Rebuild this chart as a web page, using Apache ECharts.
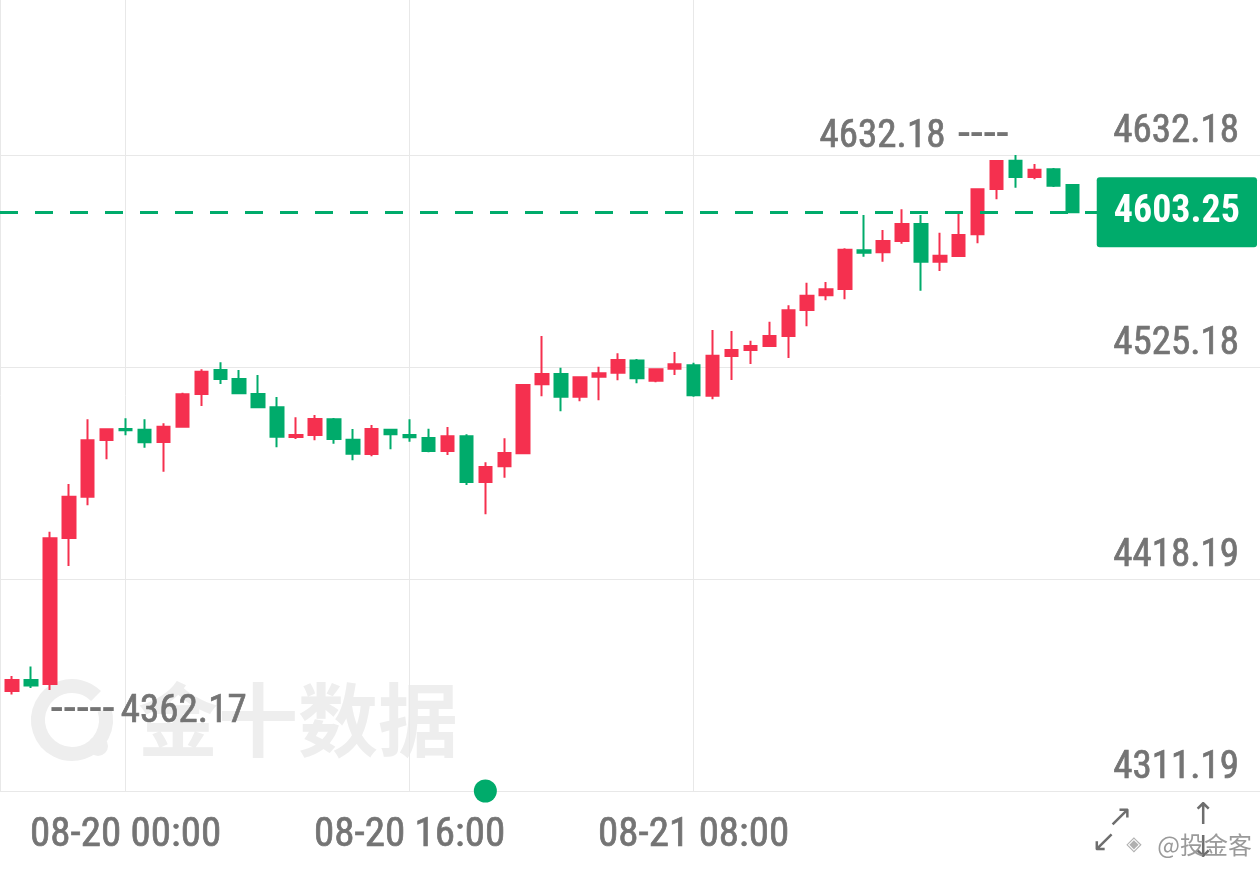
<!DOCTYPE html>
<html>
<head>
<meta charset="utf-8">
<script src="https://cdn.jsdelivr.net/npm/echarts@6/dist/echarts.min.js"></script>
<style>
html,body{margin:0;padding:0;background:#ffffff;}
#chart{width:1260px;height:869px;}
</style>
</head>
<body>
<div id="chart"></div>
<script>
// ---- data ----
const categories = [
  '08-19 18:00','08-19 19:00','08-19 20:00','08-19 21:00','08-19 22:00','08-19 23:00',
  '08-20 00:00','08-20 01:00','08-20 02:00','08-20 03:00','08-20 04:00','08-20 05:00',
  '08-20 07:00','08-20 08:00','08-20 09:00','08-20 10:00','08-20 11:00','08-20 12:00',
  '08-20 13:00','08-20 14:00','08-20 15:00','08-20 16:00','08-20 17:00','08-20 18:00',
  '08-20 19:00','08-20 20:00','08-20 21:00','08-20 22:00','08-20 23:00','08-21 00:00',
  '08-21 01:00','08-21 02:00','08-21 03:00','08-21 04:00','08-21 05:00','08-21 07:00',
  '08-21 08:00','08-21 09:00','08-21 10:00','08-21 11:00','08-21 12:00','08-21 13:00',
  '08-21 14:00','08-21 15:00','08-21 16:00','08-21 17:00','08-21 18:00','08-21 19:00',
  '08-21 20:00','08-21 21:00','08-21 22:00','08-21 23:00','08-22 00:00','08-22 01:00',
  '08-22 02:00','08-22 03:00','08-22 04:00'
];
const opens = [
  4361.66,4367.21,4365.19,4438.90,4459.72,4488.34,4493.89,4493.54,4487.33,4495.05,
  4511.56,4523.67,4519.13,4511.56,4504.84,4489.85,4490.86,4498.79,4488.49,4481.27,
  4493.54,4490.86,4489.35,4482.79,4490.21,4467.14,4475.07,4481.63,4516.45,4521.65,
  4510.19,4520.29,4522.31,4528.46,4518.27,4524.33,4526.04,4510.70,4530.73,4533.76,
  4535.78,4540.83,4553.95,4561.37,4564.55,4584.08,4583.07,4588.78,4597.36,4578.33,
  4581.21,4592.16,4615.02,4629.30,4621.08,4624.96,4617.04
];
const closes = [
  4367.21,4364.44,4438.73,4459.72,4488.19,4493.74,4493.24,4487.18,4495.05,4511.40,
  4522.81,4519.13,4511.91,4504.84,4490.01,4490.86,4498.94,4488.84,4481.43,4493.89,
  4491.22,4489.70,4482.79,4490.21,4467.14,4474.71,4481.78,4516.10,4521.65,4510.19,
  4519.98,4522.00,4528.72,4519.48,4524.02,4526.55,4510.90,4530.89,4533.76,4535.78,
  4540.83,4553.80,4561.17,4564.40,4584.38,4582.87,4588.78,4597.36,4578.33,4581.36,
  4591.80,4614.87,4629.15,4621.08,4624.76,4616.69,4603.25
];
const lows = [
  4359.89,4363.17,4362.17,4424.75,4455.38,4478.60,4490.71,4484.45,4472.34,4494.80,
  4505.50,4516.60,4511.40,4504.34,4484.66,4488.84,4488.19,4486.47,4478.10,4480.11,
  4483.65,4487.48,4482.13,4480.77,4465.63,4450.84,4469.31,4481.12,4510.40,4502.83,
  4507.87,4508.38,4518.47,4516.96,4517.46,4521.15,4510.19,4508.88,4518.62,4526.70,
  4535.43,4529.73,4545.72,4558.85,4559.35,4580.85,4578.33,4587.41,4563.69,4573.63,
  4580.85,4587.61,4609.82,4615.68,4619.92,4616.03,4603.00
];
const highs = [
  4369.23,4374.03,4442.06,4466.13,4498.79,4494.25,4499.29,4498.79,4496.77,4512.21,
  4524.02,4527.56,4523.67,4521.15,4510.04,4499.80,4500.96,4499.44,4493.89,4495.91,
  4493.89,4498.79,4494.04,4494.90,4491.22,4477.09,4489.20,4516.45,4540.83,4524.83,
  4520.49,4525.34,4532.10,4529.22,4524.53,4532.75,4527.35,4543.86,4543.35,4538.46,
  4548.05,4556.32,4567.73,4568.08,4585.09,4601.90,4594.33,4604.77,4601.90,4592.96,
  4602.76,4615.37,4629.51,4632.18,4627.64,4625.62,4617.54
];
const yTicks = [4311.19, 4418.19, 4525.18, 4632.18];
const yAxisTop = 4710.41;
const xTickLabels = ['08-20 00:00', '08-20 16:00', '08-21 08:00'];
const lastPrice = 4603.25;
const eventTimes = ['08-20 20:00'];
const highMark = { time: '08-22 01:00', value: 4632.18 };
const lowMark = { time: '08-19 20:00', value: 4362.17 };

// ---- style ----
const UP = '#F5304F', DOWN = '#00AB6B', GRAY = '#747474', GRIDC = '#e8e8e8';
const FONT = '"Liberation Sans Narrow", "Roboto Condensed", Roboto, sans-serif';
const SPACING = 18.934, FIRST_X = 12, PLOT_BOTTOM = 78;
const THICK = { textBorderColor: GRAY, textBorderWidth: 0.7 };

const candleData = categories.map((c, i) => [opens[i], closes[i], lows[i], highs[i]]);
const yMin = yTicks[0];

const chart = echarts.init(document.getElementById('chart'), null, { renderer: 'canvas' });

const option = {
  animation: false,
  backgroundColor: '#ffffff',
  grid: [
    { left: 0, right: 0, top: 0, bottom: PLOT_BOTTOM, outerBoundsMode: 'none', containLabel: false },
    { left: FIRST_X, width: (categories.length - 1) * SPACING, top: 0, bottom: PLOT_BOTTOM, outerBoundsMode: 'none', containLabel: false }
  ],
  xAxis: [
    { gridIndex: 0, type: 'value', min: 0, max: 1, interval: 1,
      axisLine: { show: false }, axisTick: { show: false }, axisLabel: { show: false },
      splitLine: { show: true, lineStyle: { color: GRIDC, width: 1 } } },
    { gridIndex: 1, type: 'category', data: categories, boundaryGap: false,
      axisLine: { show: false }, axisTick: { show: false },
      axisLabel: Object.assign({ show: true, interval: (i, v) => xTickLabels.indexOf(v) >= 0,
        color: GRAY, fontFamily: FONT, fontSize: 41, lineHeight: 40, margin: 25 }, THICK),
      splitLine: { show: true, interval: (i, v) => xTickLabels.indexOf(v) >= 0,
        lineStyle: { color: GRIDC, width: 1 } } }
  ],
  yAxis: [
    { gridIndex: 1, type: 'value', min: yMin, max: yAxisTop, show: false, splitLine: { show: false } },
    { gridIndex: 0, type: 'value', min: yMin, max: yAxisTop, position: 'right',
      axisLine: { show: false }, axisTick: { show: false, customValues: yTicks },
      splitLine: { show: true, lineStyle: { color: GRIDC, width: 1 } },
      axisLabel: Object.assign({ customValues: yTicks, inside: true, margin: 21, color: GRAY,
        fontFamily: FONT, fontSize: 39, lineHeight: 40, verticalAlign: 'bottom',
        padding: [0, 0, 3, 0], formatter: v => v.toFixed(2) }, THICK) },
    { gridIndex: 0, type: 'value', min: yMin, max: yAxisTop, position: 'right', z: 10,
      axisLine: { show: false }, axisTick: { show: false, customValues: [lastPrice] }, splitLine: { show: false },
      axisLabel: { customValues: [lastPrice], inside: true, margin: 3, color: '#ffffff',
        fontFamily: FONT, fontSize: 38, fontWeight: 'bold', lineHeight: 40, verticalAlign: 'middle',
        backgroundColor: DOWN, borderRadius: 3, padding: [15, 17, 15, 17],
        formatter: v => v.toFixed(2) } }
  ],
  series: [
    { type: 'line', xAxisIndex: 0, yAxisIndex: 1, data: [], silent: true,
      markLine: { symbol: ['none', 'none'], silent: true, animation: false,
        label: { show: false },
        lineStyle: { color: DOWN, type: [18, 17], width: 3, opacity: 1 },
        data: [{ yAxis: lastPrice }] } },
    { type: 'candlestick', xAxisIndex: 1, yAxisIndex: 0, data: candleData, clip: false,
      barWidth: 13,
      itemStyle: { color: UP, color0: DOWN, borderColor: UP, borderColor0: DOWN, borderWidth: 2 },
      markPoint: {
        symbol: 'circle', symbolSize: 1, silent: true, animation: false,
        itemStyle: { color: 'rgba(0,0,0,0)' },
        label: { show: true, rich: {
          v: Object.assign({ fontFamily: FONT, fontSize: 39, color: GRAY, lineHeight: 40, verticalAlign: 'middle' }, THICK),
          d: { fontFamily: FONT, fontSize: 52, color: GRAY, lineHeight: 40, verticalAlign: 'middle' },
          s: { width: 12, fontSize: 20 },
          s2: { width: 6, fontSize: 20 }
        } },
        data: [
          { coord: [categories.indexOf(highMark.time), highMark.value], value: highMark.value,
            label: { position: 'left', distance: 6, offset: [0, -18],
              formatter: p => '{v|' + p.value.toFixed(2) + '}{s| }{d|----}' } },
          { coord: [categories.indexOf(lowMark.time), lowMark.value], value: lowMark.value,
            label: { position: 'right', distance: 0, offset: [0, 22],
              formatter: p => '{d|-----}{s2| }{v|' + p.value.toFixed(2) + '}' } }
        ]
      } },
    { type: 'scatter', xAxisIndex: 1, yAxisIndex: 0, clip: false, silent: true, z: 5,
      symbolSize: 23, itemStyle: { color: DOWN, opacity: 1 },
      data: eventTimes.map(t => [categories.indexOf(t), yMin]) }
  ],
  graphic: [
    { type: 'group', z: -10, silent: true, children: [
      { type: 'arc', shape: { cx: 72, cy: 720, r: 34, startAngle: -Math.PI * 0.1, endAngle: Math.PI * 1.75 },
        style: { stroke: '#eeeeee', lineWidth: 14, fill: null } },
      { type: 'circle', shape: { cx: 98, cy: 746, r: 10 }, style: { fill: '#eeeeee' } },
      { type: 'text', x: 138, y: 720, style: { text: '金十数据', fontSize: 80, fontWeight: 'bold',
        fontFamily: '"Noto Sans CJK SC", sans-serif', fill: '#eeeeee', align: 'left', verticalAlign: 'middle' } }
    ] },
    { type: 'group', silent: true, children: [
      { type: 'text', x: 1120, y: 818, style: { text: '↗', fontSize: 30, fontFamily: '"DejaVu Sans"', fill: '#6e6e6e', align: 'center', verticalAlign: 'middle' } },
      { type: 'text', x: 1104, y: 843, style: { text: '↙', fontSize: 30, fontFamily: '"DejaVu Sans"', fill: '#6e6e6e', align: 'center', verticalAlign: 'middle' } },
      { type: 'text', x: 1203, y: 816, style: { text: '↑', fontSize: 30, fontFamily: '"DejaVu Sans"', fill: '#6e6e6e', align: 'center', verticalAlign: 'middle' } },
      { type: 'text', x: 1203, y: 849, style: { text: '↓', fontSize: 30, fontFamily: '"DejaVu Sans"', fill: '#6e6e6e', align: 'center', verticalAlign: 'middle' } },
      { type: 'text', x: 1134, y: 845, style: { text: '◈', fontSize: 20, fontFamily: '"DejaVu Sans"', fill: '#b0b0b0', align: 'center', verticalAlign: 'middle' } },
      { type: 'text', x: 1252, y: 845, style: { text: '@投金客', fontSize: 24, fontFamily: '"Noto Sans CJK SC", sans-serif', fill: '#9a9a9a', align: 'right', verticalAlign: 'middle' } }
    ] }
  ]
};
chart.setOption(option);
</script>
</body>
</html>
